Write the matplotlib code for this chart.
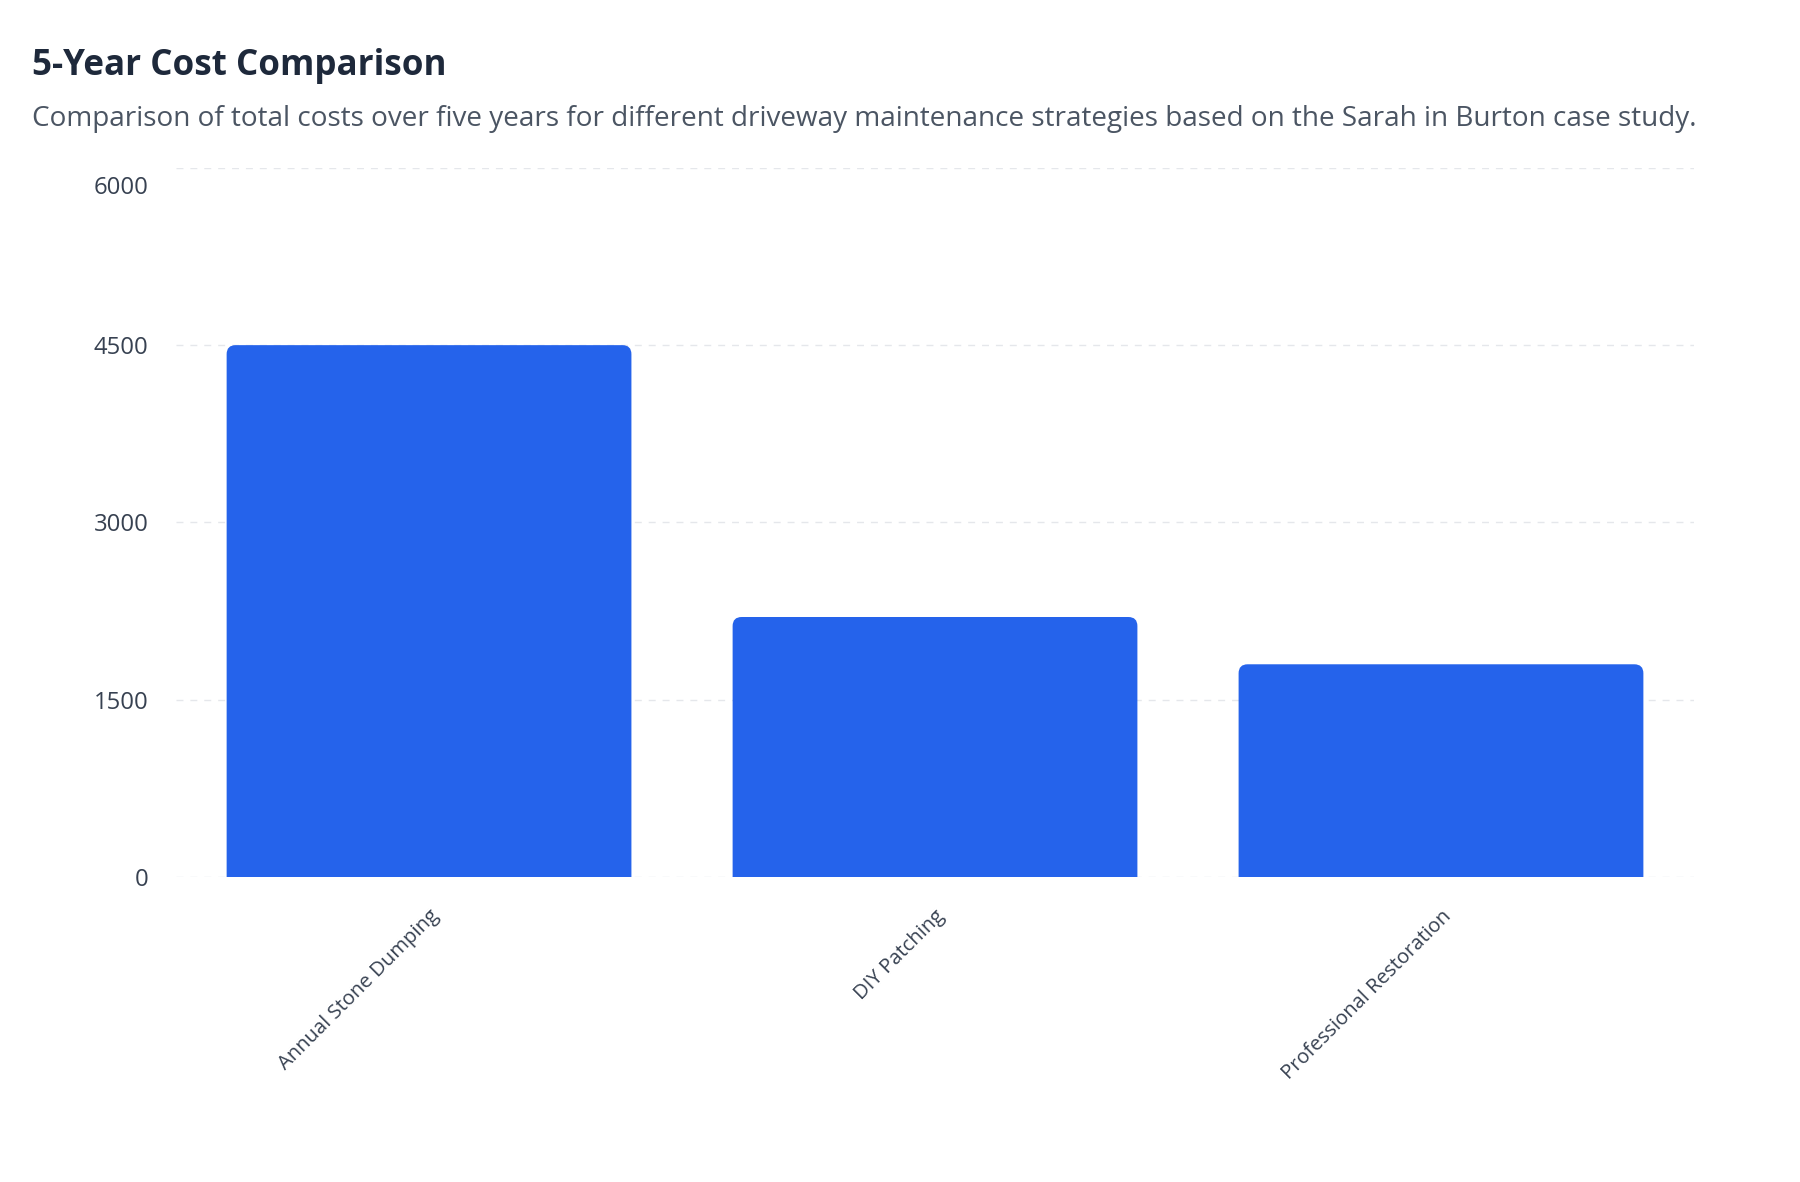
import matplotlib
matplotlib.use("Agg")
import matplotlib.pyplot as plt
import matplotlib.transforms as mtransforms
from matplotlib.patches import FancyBboxPatch

plt.rcParams['font.family'] = ['Open Sans', 'DejaVu Sans']

# data
strategies = ['Annual Stone Dumping', 'DIY Patching', 'Professional Restoration']
costs = [4500, 2200, 1800]
y_ticks = [0, 1500, 3000, 4500, 6000]

bar_color = '#2563eb'
title_color = '#1e293b'
sub_color = '#4b5563'
tick_color = '#374151'

fig = plt.figure(figsize=(18, 11.82), dpi=100)
ax = fig.add_axes([0.0978, 0.258, 0.8433, 0.6])

x = list(range(len(strategies)))
ax.set_xlim(-0.5, len(strategies) - 0.5)
ax.set_ylim(0, 6000)

# rounded-top bars: radius in data units for x and y
bar_w = 0.8
rad_px = 9
ax_w_px = fig.get_figwidth() * fig.dpi * 0.8433
ax_h_px = fig.get_figheight() * fig.dpi * 0.6
rx = rad_px / ax_w_px * len(strategies)
ry = rad_px / ax_h_px * 6000
for xi, val in zip(x, costs):
    patch = FancyBboxPatch((xi - bar_w / 2, -ry * 2), bar_w, val + ry * 2,
                           boxstyle=f"round,pad=0,rounding_size={rx}",
                           mutation_aspect=ry / rx,
                           facecolor=bar_color, edgecolor='none', zorder=3)
    ax.add_patch(patch)

ax.set_yticks(y_ticks)
ax.set_yticklabels([str(v) for v in y_ticks])
ax.yaxis.grid(True, color='#e5e7eb', linestyle=(0, (5, 5)), linewidth=1.0, zorder=0)
ax.set_axisbelow(True)
ax.tick_params(axis='y', length=0, pad=20, labelsize=17.2, labelcolor=tick_color)

# top label sits a bit below its gridline
top_lbl = ax.get_yticklabels()[-1]
top_lbl.set_transform(top_lbl.get_transform() +
                      mtransforms.ScaledTranslation(0, -12 / 72, fig.dpi_scale_trans))

ax.set_xticks(x)
ax.set_xticklabels(strategies, rotation=45, ha='right', va='center',
                   rotation_mode='anchor')
ax.tick_params(axis='x', length=0, pad=26, labelsize=14.6, labelcolor=tick_color)
shift = mtransforms.ScaledTranslation(5 / 72, 0, fig.dpi_scale_trans)
for lbl in ax.get_xticklabels():
    lbl.set_transform(lbl.get_transform() + shift)

for s in ax.spines.values():
    s.set_visible(False)

fig.text(32 / 1800, 1 - 75 / 1182, '5-Year Cost Comparison', fontsize=25.2,
         fontweight='bold', color=title_color, ha='left', va='baseline')
fig.text(32 / 1800, 1 - 126 / 1182,
         'Comparison of total costs over five years for different driveway maintenance '
         'strategies based on the Sarah in Burton case study.',
         fontsize=20.1, color=sub_color, ha='left', va='baseline')

fig.savefig('out.png', dpi=100, facecolor='white')
